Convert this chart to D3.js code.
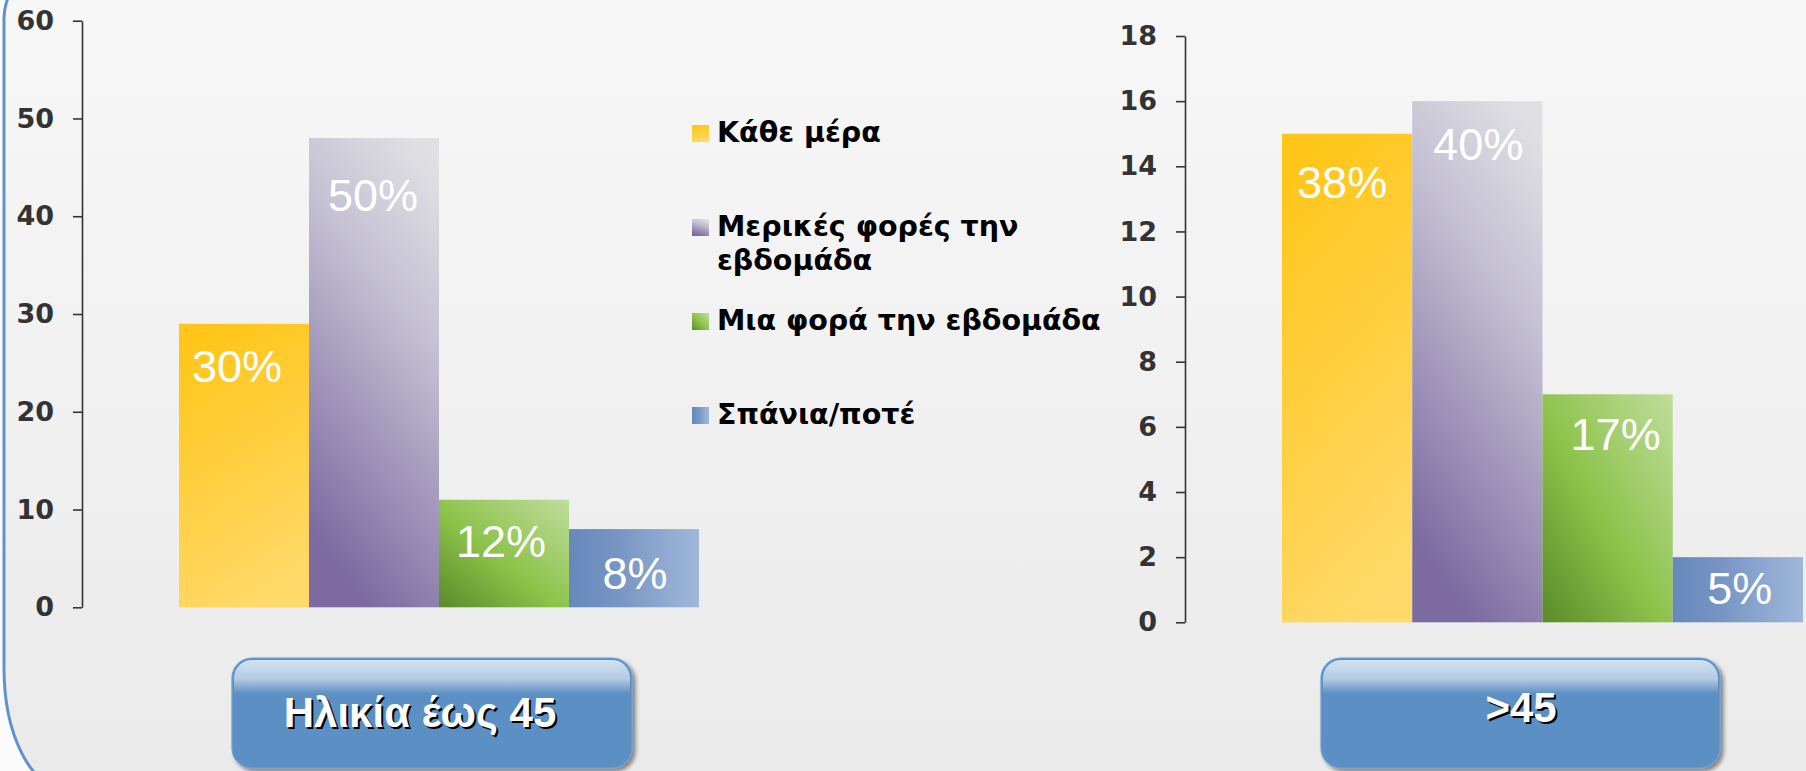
<!DOCTYPE html>
<html><head><meta charset="utf-8">
<script src="https://cdn.jsdelivr.net/npm/d3@7"></script>
<style>html,body{margin:0;padding:0;background:#fafafa;overflow:hidden}</style>
</head><body>
<svg id="chart" width="1806" height="771"></svg>
<script>
const seriesNames = ["Κάθε μέρα", "Μερικές φορές την εβδομάδα", "Μια φορά την εβδομάδα", "Σπάνια/ποτέ"];
const groupNames = ["Ηλικία έως 45", ">45"];
const valuesUnder45 = [29, 48, 11, 8];
const labelsUnder45 = ["30%", "50%", "12%", "8%"];
const valuesOver45 = [15, 16, 7, 2];
const labelsOver45 = ["38%", "40%", "17%", "5%"];
const ticksUnder45 = [0, 10, 20, 30, 40, 50, 60];
const ticksOver45 = [0, 2, 4, 6, 8, 10, 12, 14, 16, 18];

const W = 1806, H = 771;
const svg = d3.select("#chart");
const defs = svg.append("defs");

function lin(id, x1, y1, x2, y2, stops) {
  const g = defs.append("linearGradient").attr("id", id)
    .attr("x1", x1).attr("y1", y1).attr("x2", x2).attr("y2", y2);
  stops.forEach(s => g.append("stop").attr("offset", s[0]).attr("stop-color", s[1]));
}
lin("bg", 0, 0, 0, 1, [[0, "#f8f8f8"], [1, "#eaeaea"]]);
lin("s0", 0.3, 0, 0.6, 1, [[0, "#ffc619"], [1, "#ffd96a"]]);
lin("s1", 0.8, 0, 0.45, 1, [[0, "#e0e0e3"], [0.35, "#c4c0d3"], [1, "#7c6aa0"]]);
lin("s2", 0, 1, 1, 0, [[0, "#5a8a2a"], [0.45, "#8cc249"], [1, "#bfdd9c"]]);
lin("s3", 0, 0, 1, 0, [[0, "#6788bb"], [0.35, "#7594c3"], [1, "#a0b7d9"]]);
lin("gloss", 0, 0, 0, 1, [[0, "#d4e2f0"], [0.55, "#b3cbe3"], [1, "#5b8fc3"]]);
const sh = defs.append("filter").attr("id", "boxShadow").attr("x", "-5%").attr("y", "-10%").attr("width", "115%").attr("height", "130%");
sh.append("feGaussianBlur").attr("in", "SourceAlpha").attr("stdDeviation", 2).attr("result", "b");
sh.append("feOffset").attr("in", "b").attr("dx", 3).attr("dy", 3).attr("result", "o");
sh.append("feComponentTransfer").attr("in", "o").attr("result", "o2")
  .append("feFuncA").attr("type", "linear").attr("slope", 0.45);
const mg = sh.append("feMerge");
mg.append("feMergeNode").attr("in", "o2");
mg.append("feMergeNode").attr("in", "SourceGraphic");

// background panel with rounded blue border on the left
svg.append("rect").attr("width", W).attr("height", H).attr("fill", "#fbfbfb");
svg.append("path")
  .attr("d", "M1900,-40 L64,-40 A60,60 0 0 0 4,20 L4,668 A60,120 0 0 0 64,788 L1900,788 Z")
  .attr("fill", "url(#bg)").attr("stroke", "#5f93c9").attr("stroke-width", 3);

// layout (label nudges relative to bar top / bar centre)
const charts = [
  { name: groupNames[0], values: valuesUnder45, labels: labelsUnder45, ticks: ticksUnder45,
    axisX: 82, yTop: 20.7, yBottom: 607.3, barStart: 179, barEnd: 699,
    labelDy: [58, 73, 57, 60], labelDx: [-7, -1, -3, 1],
    box: [232, 658, 400, 110], textY: 727, textX: 420 },
  { name: groupNames[1], values: valuesOver45, labels: labelsOver45, ticks: ticksOver45,
    axisX: 1185, yTop: 36, yBottom: 622.3, barStart: 1282, barEnd: 1803,
    labelDy: [64, 59, 56, 47], labelDx: [-5, 1, 8, 2],
    box: [1321, 658, 399, 110], textY: 722, textX: 1521 }
];

charts.forEach(c => {
  const y = d3.scaleLinear().domain([0, d3.max(c.ticks)]).range([c.yBottom, c.yTop]);
  const x = d3.scaleBand().domain(seriesNames).range([c.barStart, c.barEnd]).padding(0);
  const g = svg.append("g");

  const ax = g.append("g").attr("transform", `translate(${c.axisX},0)`)
    .call(d3.axisLeft(y).tickValues(c.ticks).tickSize(9).tickSizeOuter(0).tickPadding(19).tickFormat(d3.format("d")));
  ax.select(".domain").attr("stroke", "#333").attr("stroke-width", 1.6);
  ax.selectAll(".tick line").attr("stroke", "#333").attr("stroke-width", 1.6);
  ax.selectAll(".tick text").attr("fill", "#333")
    .style("font-family", "'DejaVu Sans'").style("font-weight", "bold").style("font-size", "27px");

  g.selectAll("rect.bar").data(c.values).join("rect").attr("class", "bar")
    .attr("x", (d, i) => x(seriesNames[i]))
    .attr("width", x.bandwidth())
    .attr("y", d => y(d))
    .attr("height", d => y(0) - y(d))
    .attr("fill", (d, i) => `url(#s${i})`);

  g.selectAll("text.lbl").data(c.values).join("text").attr("class", "lbl")
    .attr("x", (d, i) => x(seriesNames[i]) + x.bandwidth() / 2 + c.labelDx[i])
    .attr("y", (d, i) => y(d) + c.labelDy[i])
    .attr("text-anchor", "middle")
    .attr("fill", "#fff")
    .style("font-family", "'Liberation Sans', Arial").style("font-size", "45px")
    .text((d, i) => c.labels[i]);

  // category box
  const [bx, by, bw, bh] = c.box;
  const bg = g.append("g");
  bg.append("rect").attr("x", bx).attr("y", by).attr("width", bw).attr("height", bh)
    .attr("rx", 20).attr("fill", "#5b8fc3").attr("stroke", "#6e9fd0").attr("stroke-width", 1.2)
    .attr("filter", "url(#boxShadow)");
  bg.append("path")
    .attr("d", `M${bx + 2},${by + 36} L${bx + 2},${by + 20} A18,18 0 0 1 ${bx + 20},${by + 2} L${bx + bw - 20},${by + 2} A18,18 0 0 1 ${bx + bw - 2},${by + 20} L${bx + bw - 2},${by + 36} Z`)
    .attr("fill", "url(#gloss)");
  bg.append("text").attr("x", c.textX + 2).attr("y", c.textY + 2).attr("text-anchor", "middle")
    .attr("fill", "#000")
    .style("font-family", "'Liberation Sans', Arial").style("font-weight", "bold").style("font-size", "42px")
    .text(c.name);
  bg.append("text").attr("x", c.textX).attr("y", c.textY).attr("text-anchor", "middle")
    .attr("fill", "#fff")
    .style("font-family", "'Liberation Sans', Arial").style("font-weight", "bold").style("font-size", "42px")
    .text(c.name);
});

// legend
const lg = svg.append("g");
const legendX = 692, legendY0 = 142, legendStep = 94, maxW = 420;
seriesNames.forEach((name, i) => {
  const by = legendY0 + i * legendStep;
  lg.append("rect").attr("x", legendX).attr("y", by - 17).attr("width", 17).attr("height", 17)
    .attr("fill", `url(#s${i})`);
  const t = lg.append("text").attr("x", legendX + 25).attr("y", by).attr("fill", "#000")
    .style("font-family", "'DejaVu Sans'").style("font-weight", "bold").style("font-size", "28.5px");
  const words = name.split(" ");
  let line = [], ts = t.append("tspan").attr("x", legendX + 25).attr("dy", 0);
  words.forEach(w => {
    line.push(w);
    ts.text(line.join(" "));
    if (ts.node().getComputedTextLength() > maxW && line.length > 1) {
      line.pop();
      ts.text(line.join(" "));
      line = [w];
      ts = t.append("tspan").attr("x", legendX + 25).attr("dy", 34).text(w);
    }
  });
});
</script>
</body></html>
